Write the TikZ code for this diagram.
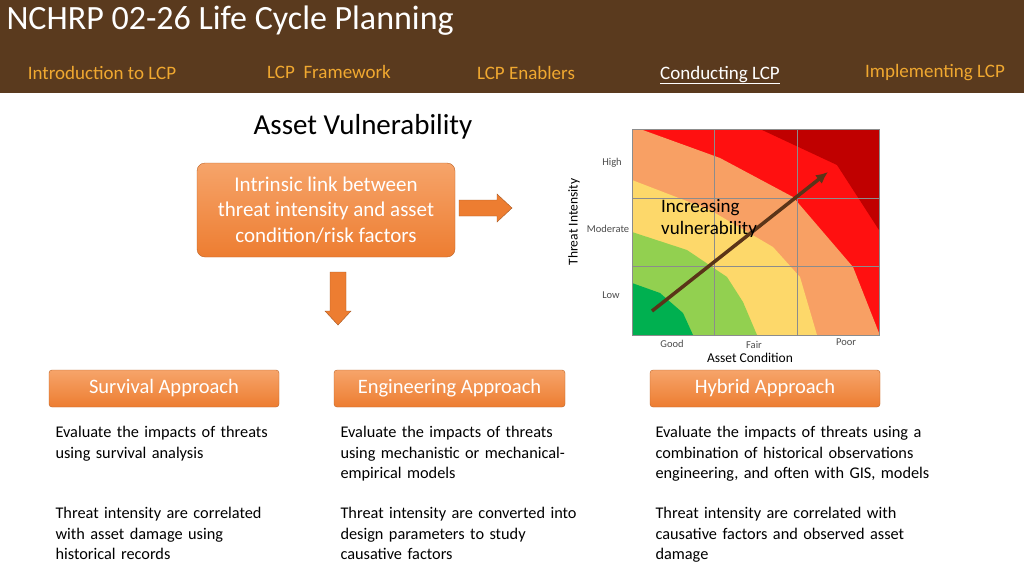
\documentclass[tikz,border=0pt]{standalone}
\usepackage{fontspec}
\setmainfont{Carlito}
\usetikzlibrary{arrows.meta}
\definecolor{hdr}{HTML}{5A3A1E}
\definecolor{navc}{HTML}{F0A830}
\definecolor{boxo}{HTML}{ED7D31}
\definecolor{boxl}{HTML}{F6A46A}
\definecolor{dred}{HTML}{C00000}
\definecolor{hred}{HTML}{FF1010}
\definecolor{horange}{HTML}{F8A064}
\definecolor{hyellow}{HTML}{FDD86A}
\definecolor{hlgreen}{HTML}{92D050}
\definecolor{hgreen}{HTML}{00B050}
\definecolor{arrowbr}{HTML}{5A3418}

\begin{document}
\begin{tikzpicture}[x=1pt,y=-1pt]
    \tikzstyle{nav}=[anchor=base,text=navc,font=\fontsize{19}{22}\selectfont]
    \tikzstyle{approach}=[rectangle,rounded corners=3pt,draw=boxo!80!black,top color=boxl,bottom color=boxo,
                          text=white,minimum width=230pt,minimum height=37pt,font=\fontsize{20.5}{24}\selectfont]
    \tikzstyle{body}=[anchor=north west,align=left,text width=300pt,font=\fontsize{16.3}{20.3}\selectfont]
    \tikzstyle{tick}=[font=\fontsize{10.5}{12}\selectfont,text=black!70]
    \tikzstyle{blockarrow}=[draw=boxo!70!black,fill=boxo]
    \useasboundingbox (0,0) rectangle (1024,576);
    \fill[white] (0,0) rectangle (1024,576);
    % header
    \fill[hdr] (0,0) rectangle (1024,93);
    \node[anchor=west,text=white,font=\fontsize{34}{38}\selectfont] (title) at (3,21) {NCHRP 02-26 Life Cycle Planning};
    \node[nav] (intro) at (102,79) {Introduction to LCP};
    \node[nav] (frame) at (329,78) {LCP\ \ Framework};
    \node[nav] (enab) at (526,79) {LCP Enablers};
    \node[nav,text=white] (cond) at (720,79) {\underline{Conducting LCP}};
    \node[nav] (impl) at (935,77) {Implementing LCP};
    % heading and link box
    \node[font=\fontsize{29}{32}\selectfont] (head) at (363,127) {Asset Vulnerability};
    \node[approach,minimum width=258pt,minimum height=94pt,rounded corners=8pt,align=center,
          font=\fontsize{21}{25.5}\selectfont] (link) at (326,210)
          {Intrinsic link between\\threat intensity and asset\\condition/risk factors};
    \draw[blockarrow] (459,200) -- (497,200) -- (497,194) -- (512,208) -- (497,222) -- (497,216) -- (459,216) -- cycle;
    \draw[blockarrow] (330,272) -- (346,272) -- (346,311) -- (351,311) -- (338,325) -- (325,311) -- (330,311) -- cycle;
    % heat map
    \fill[hred] (632,129) rectangle (879,335);
    \fill[dred] (760,129) -- (837,165) -- (879,230) -- (879,129) -- cycle;
    \fill[horange] (632,129) -- (640,129) -- (720,158) -- (793,197) -- (853,267) -- (879,333) -- (879,335) -- (632,335) -- cycle;
    \fill[hyellow] (632,180) -- (710,210) -- (773,247) -- (800,277) -- (817,335) -- (632,335) -- cycle;
    \fill[hlgreen] (632,232) -- (687,250) -- (727,277) -- (743,302) -- (757,335) -- (632,335) -- cycle;
    \fill[hgreen] (632,283) -- (660,293) -- (683,313) -- (693,335) -- (632,335) -- cycle;
    \draw[black!45,line width=0.8pt] (632,129) rectangle (879,335);
    \draw[black!45,line width=0.8pt] (714,129) -- (714,335) (797,129) -- (797,335)
        (632,198) -- (879,198) (632,266) -- (879,266);
    \node[tick] (high) at (612,163) {High};
    \node[tick] (mod) at (608,229) {Moderate};
    \node[tick] (low) at (611,295) {Low};
    \node[tick] (good) at (672,344) {Good};
    \node[tick] (fair) at (754,345) {Fair};
    \node[tick] (poor) at (846,342) {Poor};
    \node[font=\fontsize{13.5}{15}\selectfont] (xlab) at (750,358) {Asset Condition};
    \node[font=\fontsize{13.5}{15}\selectfont,rotate=90] (ylab) at (574,222) {Threat Intensity};
    \coordinate (vstart) at (652,311);
    \coordinate (vend) at (828,172);
    \draw[arrowbr,line width=3.5pt,-{Latex[length=12pt,width=11pt]}] (vstart) -- (vend);
    \node[anchor=north west,align=left,font=\fontsize{19}{22}\selectfont,inner sep=0pt] (incr) at (661,199)
        {Increasing\\vulnerability};
    % approaches
    \node[approach] (surv) at (164,388.5) {Survival Approach};
    \node[approach,minimum width=231pt] (eng) at (449.5,388.5) {Engineering Approach};
    \node[approach] (hyb) at (765,388.5) {Hybrid Approach};
    \node[body] (s1) at (52,423) {Evaluate the impacts of threats\\using survival analysis};
    \node[body] (s2) at (52,504) {Threat intensity are correlated\\with asset damage using\\historical records};
    \node[body] (e1) at (337,423) {Evaluate the impacts of threats\\using mechanistic or mechanical-\\empirical models};
    \node[body] (e2) at (337,504) {Threat intensity are converted into\\design parameters to study\\causative factors};
    \node[body] (h1) at (652,423) {Evaluate the impacts of threats using a\\combination of historical observations\\engineering, and often with GIS, models};
    \node[body] (h2) at (652,504) {Threat intensity are correlated with\\causative factors and observed asset\\damage};
\end{tikzpicture}
\end{document}
